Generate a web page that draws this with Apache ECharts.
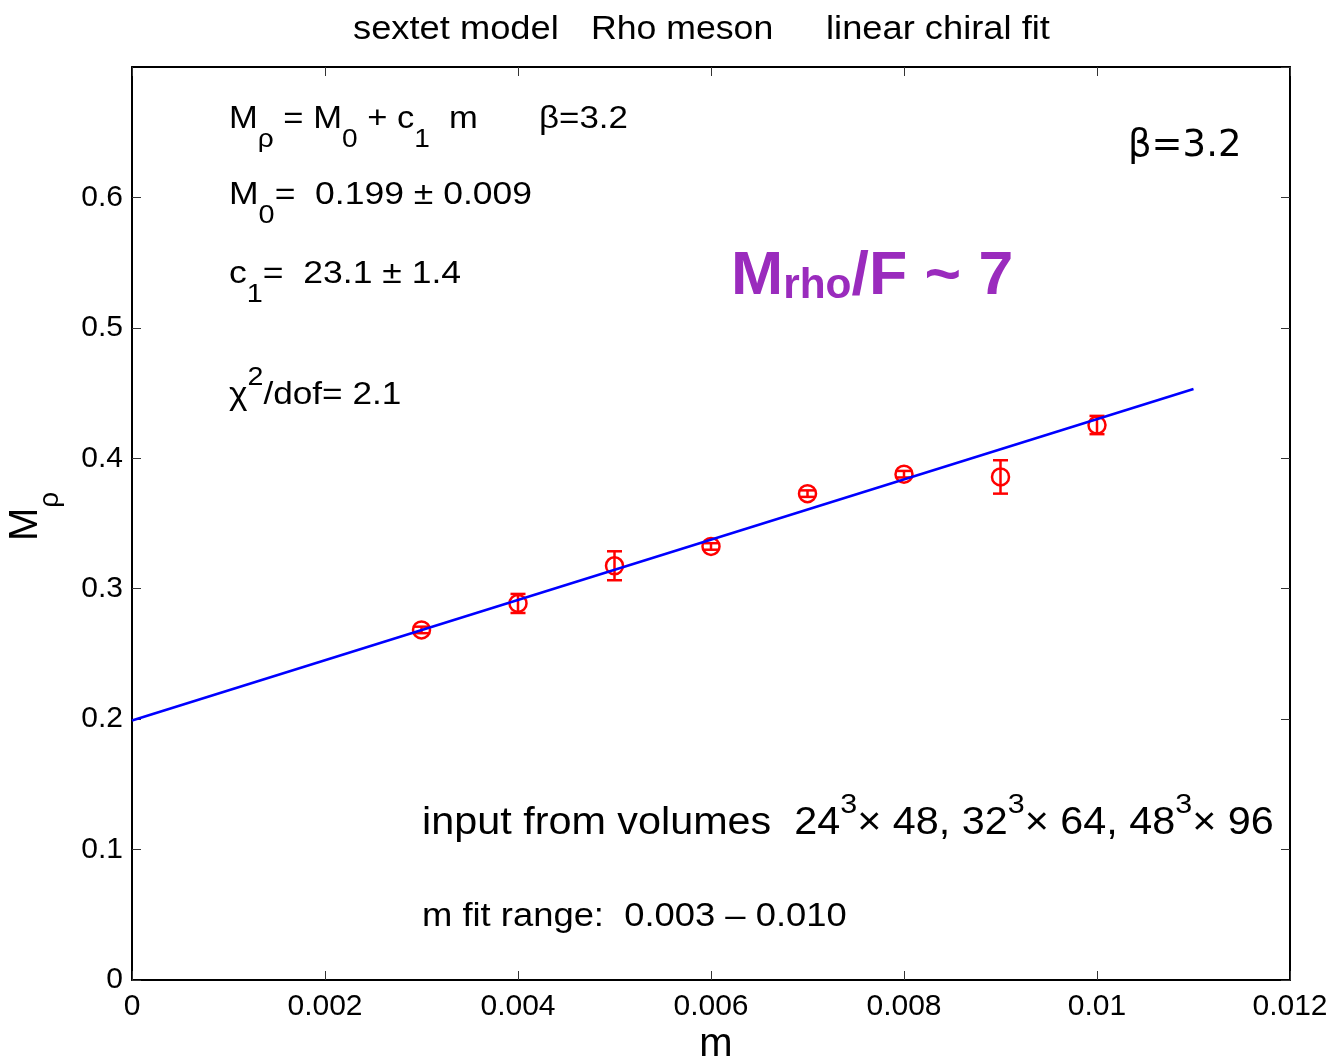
<!DOCTYPE html>
<html>
<head>
<meta charset="utf-8">
<script src="https://cdn.jsdelivr.net/npm/echarts@6/dist/echarts.min.js"></script>
<style>
  html, body { margin: 0; padding: 0; background: #fff; }
  #chart { width: 1334px; height: 1062px; }
</style>
</head>
<body>
<div id="chart"></div>
<script>
// Quark mass values and measured rho masses with their errors
const masses  = [0.003, 0.004, 0.005, 0.006, 0.007, 0.008, 0.009, 0.010];
const rhoMass = [0.2684, 0.2887, 0.3176, 0.3324, 0.3729, 0.3878, 0.3857, 0.4255];
const rhoErr  = [0.0025, 0.0073, 0.0111, 0.0025, 0.0025, 0.0025, 0.0128, 0.0070];

// Linear chiral fit  M_rho = M0 + c1 * m
const fitM0 = 0.199;
const fitC1 = 23.1;
const fitRange = [0, 0.011];

// Axis ranges
const xRange = { min: 0, max: 0.012, interval: 0.002 };
const yRange = { min: 0, max: 0.7, interval: 0.1 };

const FAMILY = '"Liberation Sans", Arial, Helvetica, sans-serif';

const measureCtx = document.createElement('canvas').getContext('2d');
function textWidth(str, size, weight, family) {
  measureCtx.font = (weight || 'normal') + ' ' + size + 'px ' + family;
  return measureCtx.measureText(str).width;
}

// Lay out a run of text pieces (for sub/superscripts) left to right
function textRun(x, y, parts, opts) {
  opts = opts || {};
  const k = opts.scaleX || 1;
  const family = opts.family || FAMILY;
  const fill = opts.fill || '#000';
  const els = [];
  let cx = x;
  parts.forEach(function (p) {
    const t = p[0], size = p[1], dy = p[2] || 0, weight = p[3] || 'normal';
    els.push({
      type: 'text', x: cx, y: y + dy, scaleX: k, z: 10,
      style: {
        text: t, fontSize: size, fontFamily: family, fontWeight: weight, fill: fill,
        align: 'left', verticalAlign: 'middle', textAlign: 'left', textVerticalAlign: 'middle'
      }
    });
    cx += textWidth(t, size, weight, family) * k;
  });
  return els;
}

const K = 1.08;
const graphics = [].concat(
  // Title
  textRun(353, 30, [['sextet model', 33]], { scaleX: 1.1 }),
  textRun(591, 30, [['Rho meson', 33]], { scaleX: 1.08 }),
  textRun(826, 30, [['linear chiral fit', 33]], { scaleX: 1.1 }),
  // Fit formula and results
  textRun(229, 119, [['M', 32], ['\u03C1', 26, 21], [' = M', 32], ['0', 26, 21], [' + c', 32], ['1', 26, 21], ['  m', 32]], { scaleX: K }),
  textRun(539, 119, [['\u03B2=3.2', 32]], { scaleX: 1.09 }),
  textRun(229, 195, [['M', 32], ['0', 26, 21], ['=  0.199 \u00B1 0.009', 32]], { scaleX: 1.11 }),
  textRun(229, 274, [['c', 32], ['1', 26, 21], ['=  23.1 \u00B1 1.4', 32]], { scaleX: 1.11 }),
  textRun(229, 395, [['\u03C7', 32], ['2', 26, -17], ['/dof= 2.1', 32]], { scaleX: 1.1 }),
  // Ratio note
  textRun(731, 277, [['M', 62, 0, 'bold'], ['rho', 42, 9, 'bold'], ['/F ~ 7', 62, 0, 'bold']], { fill: '#9a2bbd', scaleX: 1.01 }),
  // Coupling
  textRun(1128, 146, [['\u03B2=3.2', 37]], { family: '"DejaVu Sans", sans-serif' }),
  // Volumes and fit range
  textRun(422, 824, [['input from volumes  24', 38], ['3', 28, -19], ['\u00D7 48, 32', 38], ['3', 28, -19], ['\u00D7 64, 48', 38], ['3', 28, -19], ['\u00D7 96', 38]], { scaleX: 1.088 }),
  textRun(422, 917, [['m fit range:  0.003 \u2013 0.010', 34]], { scaleX: 1.07 }),
  // x-axis title
  [{
    type: 'text', x: 716, y: 1045, z: 10,
    style: { text: 'm', fontSize: 40, fontFamily: FAMILY, fill: '#000',
      align: 'center', verticalAlign: 'middle', textAlign: 'center', textVerticalAlign: 'middle' }
  }],
  // y-axis title, rotated
  [{
    type: 'group', x: 26, y: 541, rotation: Math.PI / 2, z: 10,
    children: [
      { type: 'text', x: 0, y: 0,
        style: { text: 'M', fontSize: 40, fontFamily: FAMILY, fill: '#000',
          align: 'left', verticalAlign: 'middle', textAlign: 'left', textVerticalAlign: 'middle' } },
      { type: 'text', x: textWidth('M', 40, 'normal', FAMILY), y: 24,
        style: { text: '\u03C1', fontSize: 28, fontFamily: FAMILY, fill: '#000',
          align: 'left', verticalAlign: 'middle', textAlign: 'left', textVerticalAlign: 'middle' } }
    ]
  }]
);

const points = masses.map(function (m, i) { return [m, rhoMass[i], rhoErr[i]]; });
const fitLine = fitRange.map(function (m) { return [m, fitM0 + fitC1 * m]; });

function fmt(v) { return v === 0 ? '0' : String(+v.toFixed(4)); }

const axisCommon = {
  type: 'value',
  axisLine: { show: true, onZero: false, lineStyle: { color: '#000', width: 2 } },
  axisTick: { show: true, inside: true, length: 9, lineStyle: { color: '#333', width: 1 } },
  splitLine: { show: false }
};

const option = {
  animation: false,
  backgroundColor: '#fff',
  grid: { left: 132, right: 44, top: 67, bottom: 82, containLabel: false },
  xAxis: [
    Object.assign({}, axisCommon, {
      position: 'bottom', min: xRange.min, max: xRange.max, interval: xRange.interval,
      axisLabel: { show: true, margin: 12, fontSize: 30, fontFamily: FAMILY, color: '#000', formatter: fmt }
    }),
    Object.assign({}, axisCommon, {
      position: 'top', min: xRange.min, max: xRange.max, interval: xRange.interval,
      axisLabel: { show: false }
    })
  ],
  yAxis: [
    Object.assign({}, axisCommon, {
      position: 'left', min: yRange.min, max: yRange.max, interval: yRange.interval,
      axisLabel: { show: true, margin: 9, fontSize: 30, fontFamily: FAMILY, color: '#000',
        formatter: fmt, showMaxLabel: false }
    }),
    Object.assign({}, axisCommon, {
      position: 'right', min: yRange.min, max: yRange.max, interval: yRange.interval,
      axisLabel: { show: false }
    })
  ],
  series: [
    {
      type: 'custom',
      name: 'M_rho',
      xAxisIndex: 0, yAxisIndex: 0,
      z: 2,
      data: points,
      encode: { x: 0, y: 1 },
      renderItem: function (params, api) {
        const x = api.value(0), y = api.value(1), e = api.value(2);
        const top = api.coord([x, y + e]);
        const bot = api.coord([x, y - e]);
        const c = api.coord([x, y]);
        const hw = 7.5;
        const st = { stroke: '#ff0000', lineWidth: 2.5, fill: null };
        return {
          type: 'group',
          children: [
            { type: 'line', shape: { x1: top[0], y1: top[1], x2: bot[0], y2: bot[1] }, style: st },
            { type: 'line', shape: { x1: top[0] - hw, y1: top[1], x2: top[0] + hw, y2: top[1] }, style: st },
            { type: 'line', shape: { x1: bot[0] - hw, y1: bot[1], x2: bot[0] + hw, y2: bot[1] }, style: st },
            { type: 'circle', shape: { cx: c[0], cy: c[1], r: 8.5 }, style: { stroke: '#ff0000', lineWidth: 2.5, fill: 'none' } }
          ]
        };
      }
    },
    {
      type: 'line',
      name: 'fit',
      xAxisIndex: 0, yAxisIndex: 0,
      z: 3,
      data: fitLine,
      showSymbol: false,
      symbol: 'none',
      lineStyle: { color: '#0000ff', width: 2.5 }
    }
  ],
  graphic: graphics
};

const chart = echarts.init(document.getElementById('chart'), null, { renderer: 'canvas' });
chart.setOption(option);
</script>
</body>
</html>
